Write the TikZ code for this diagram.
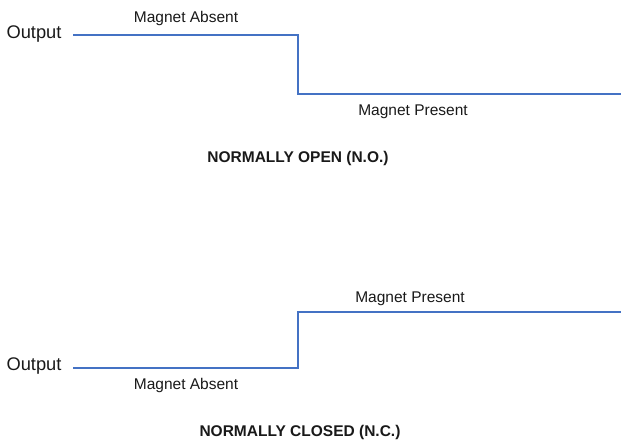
\documentclass[tikz,border=0pt]{standalone}
\usepackage{fontspec}
\setmainfont{Liberation Sans}
\usetikzlibrary{positioning}
\definecolor{sigblue}{RGB}{68,114,196}

\begin{document}
\begin{tikzpicture}[x=1pt,y=-1pt,
    signal/.style={draw=sigblue,line width=2.8pt},
    lbl/.style={inner sep=0pt,text=black!90,font=\fontsize{15.5}{17}\selectfont},
    outlbl/.style={inner sep=0pt,text=black!90,font=\fontsize{18.3}{20}\selectfont},
    title/.style={inner sep=0pt,text=black!90,font=\bfseries\fontsize{15.5}{17}\selectfont}]
  \useasboundingbox (0,0) rectangle (621,442);

  % normally open
  \node[outlbl] (out1) at (34,34.5) {Output};
  \coordinate (no1) at (73,35);
  \coordinate (no2) at (298,35);
  \coordinate (no3) at (298,94);
  \coordinate (no4) at (621,94);
  \node[lbl] (abs1) at (186,18.5) {Magnet Absent};
  \node[lbl] (pres1) at (413,111.5) {Magnet Present};
  \node[title] (nolbl) at (298,158.5) {NORMALLY OPEN (N.O.)};
  \draw [signal] (no1) -- (no2) -- (no3) -- (no4);

  % normally closed
  \node[outlbl] (out2) at (34,366.5) {Output};
  \coordinate (nc1) at (73,368);
  \coordinate (nc2) at (298,368);
  \coordinate (nc3) at (298,312);
  \coordinate (nc4) at (621,312);
  \node[lbl] (pres2) at (410,298.3) {Magnet Present};
  \node[lbl] (abs2) at (186,385) {Magnet Absent};
  \node[title] (nclbl) at (300,432) {NORMALLY CLOSED (N.C.)};
  \draw [signal] (nc1) -- (nc2) -- (nc3) -- (nc4);
\end{tikzpicture}
\end{document}
